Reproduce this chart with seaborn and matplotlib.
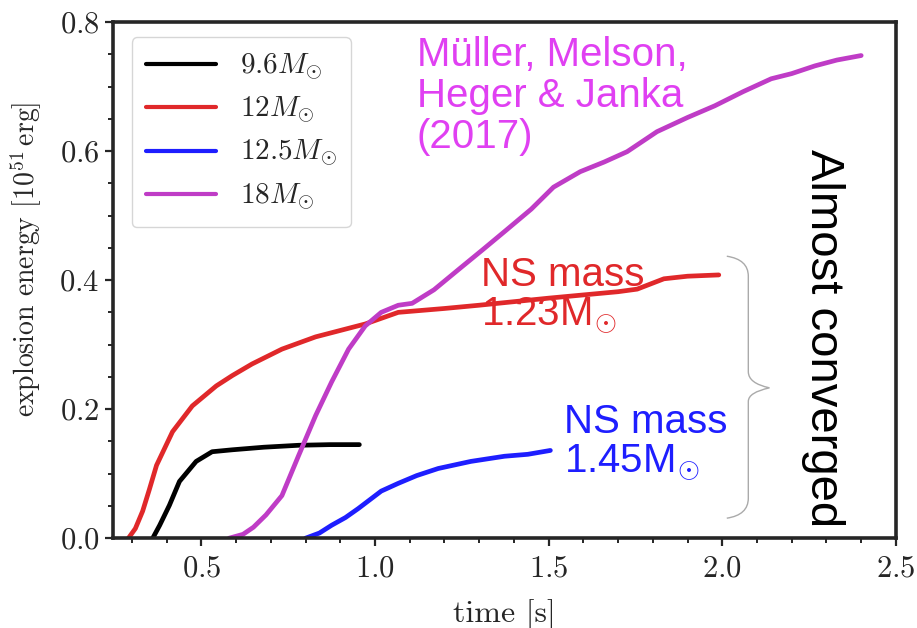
import numpy as np
import pandas as pd
import seaborn as sns
import matplotlib.pyplot as plt
from matplotlib.path import Path
from matplotlib.patches import PathPatch
from matplotlib.ticker import MultipleLocator

# explosion energy curves
t_96 = [0.36, 0.38, 0.408, 0.437, 0.485, 0.531, 0.589, 0.68, 0.78, 0.87, 0.955]
e_96 = [0.0, 0.02, 0.051, 0.088, 0.119, 0.134, 0.137, 0.141, 0.144, 0.145, 0.145]

t_12 = [0.29, 0.31, 0.331, 0.35, 0.371, 0.417, 0.474, 0.543, 0.589, 0.646, 0.732, 0.829,
        0.972, 1.067, 1.2, 1.299, 1.5, 1.7, 1.755, 1.832, 1.9, 1.99]
e_12 = [0.0, 0.015, 0.042, 0.075, 0.113, 0.165, 0.205, 0.236, 0.252, 0.270, 0.293, 0.312,
        0.332, 0.350, 0.356, 0.361, 0.372, 0.382, 0.386, 0.402, 0.406, 0.408]

t_125 = [0.80, 0.84, 0.875, 0.915, 0.952, 1.018, 1.067, 1.12, 1.182, 1.276, 1.373, 1.44, 1.505]
e_125 = [0.0, 0.008, 0.02, 0.032, 0.046, 0.073, 0.085, 0.097, 0.108, 0.119, 0.127, 0.130, 0.136]

t_18 = [0.58, 0.62, 0.65, 0.686, 0.732, 0.78, 0.829, 0.875, 0.924, 0.972, 1.018, 1.067,
        1.107, 1.17, 1.242, 1.31, 1.377, 1.45, 1.514, 1.591, 1.66, 1.726, 1.812, 1.9,
        1.978, 2.06, 2.141, 2.2, 2.267, 2.33, 2.40]
e_18 = [0.0, 0.006, 0.017, 0.036, 0.066, 0.128, 0.19, 0.242, 0.293, 0.329, 0.350, 0.361,
        0.364, 0.385, 0.417, 0.447, 0.477, 0.51, 0.544, 0.568, 0.583, 0.599, 0.630, 0.652,
        0.670, 0.692, 0.712, 0.72, 0.732, 0.741, 0.748]

labels = [r"$9.6M_{\odot}$", r"$12M_{\odot}$", r"$12.5M_{\odot}$", r"$18M_{\odot}$"]
colors = ["#000000", "#e0282a", "#1e1eff", "#bf3cc6"]

frames = []
for lab, t, e in zip(labels, [t_96, t_12, t_125, t_18], [e_96, e_12, e_125, e_18]):
    frames.append(pd.DataFrame({"time": t, "energy": e, "model": lab}))
df = pd.concat(frames, ignore_index=True)

sns.set_style("ticks")
plt.rcParams["font.family"] = "serif"
plt.rcParams["font.serif"] = ["cmr10"]
plt.rcParams["mathtext.fontset"] = "cm"
plt.rcParams["axes.formatter.use_mathtext"] = True

fig = plt.figure(figsize=(9.17, 6.28), dpi=100)
ax = fig.add_axes([0.123, 0.143, 0.854, 0.822])

sns.lineplot(data=df, x="time", y="energy", hue="model", palette=colors,
             hue_order=labels, estimator=None, sort=False, linewidth=3.4, ax=ax)

ax.set_xlim(0.245, 2.5)
ax.set_ylim(0.0, 0.8)
ax.xaxis.set_major_locator(MultipleLocator(0.5))
ax.xaxis.set_minor_locator(MultipleLocator(0.1))
ax.yaxis.set_major_locator(MultipleLocator(0.2))
ax.yaxis.set_minor_locator(MultipleLocator(0.05))
ax.tick_params(which="major", direction="out", length=6, width=1.6, labelsize=22)
ax.tick_params(axis="x", which="major", pad=6)
ax.tick_params(which="minor", direction="out", length=3.5, width=1.4)
for sp in ax.spines.values():
    sp.set_linewidth(2.6)

ax.set_xlabel("time [s]", fontsize=23, labelpad=12)
ax.set_ylabel(r"explosion energy $[10^{51}\,\mathrm{erg}]$", fontsize=20)
ax.yaxis.set_label_coords(-0.088, 0.54)

leg = ax.legend(loc="upper left", bbox_to_anchor=(0.024, 0.971), borderaxespad=0,
                fontsize=21, handlelength=2.4, labelspacing=0.42, frameon=True,
                fancybox=True, edgecolor="#cccccc", borderpad=0.5, handletextpad=0.8)
for h in leg.get_lines():
    h.set_linewidth(3)

sans = ["Liberation Sans", "DejaVu Sans"]
ax.text(1.12, 0.778, "Müller, Melson,\nHeger & Janka\n(2017)", color="#e040f2",
        fontsize=29, family=sans, ha="left", va="top", linespacing=1.1)
ax.text(1.305, 0.437, "NS mass\n1.23M$_{\\odot}$", color="#e0282a",
        fontsize=29, family=sans, ha="left", va="top", linespacing=1.0)
ax.text(1.545, 0.209, "NS mass\n1.45M$_{\\odot}$", color="#1e1eff",
        fontsize=29, family=sans, ha="left", va="top", linespacing=1.0)
ax.text(2.29, 0.31, "Almost converged", color="black", fontsize=34, family=sans,
        rotation=-90, ha="center", va="center")

# curly brace
x0, x1, x2 = 2.013, 2.075, 2.136
verts = [(x0, 0.437), (x1, 0.432), (x1, 0.406), (x1, 0.38),
         (x1, 0.30), (x1, 0.258), (x1, 0.24), (x2, 0.233),
         (x1, 0.226), (x1, 0.212), (x1, 0.19),
         (x1, 0.10), (x1, 0.062), (x1, 0.036), (x0, 0.031)]
codes = [Path.MOVETO, Path.CURVE3, Path.CURVE3, Path.LINETO,
         Path.LINETO, Path.LINETO, Path.CURVE3, Path.CURVE3,
         Path.CURVE3, Path.CURVE3, Path.LINETO,
         Path.LINETO, Path.LINETO, Path.CURVE3, Path.CURVE3]
ax.add_patch(PathPatch(Path(verts, codes), facecolor="none", edgecolor="#aaaaaa",
                       linewidth=1.0, clip_on=False))

fig.savefig("out.png", dpi=100)
